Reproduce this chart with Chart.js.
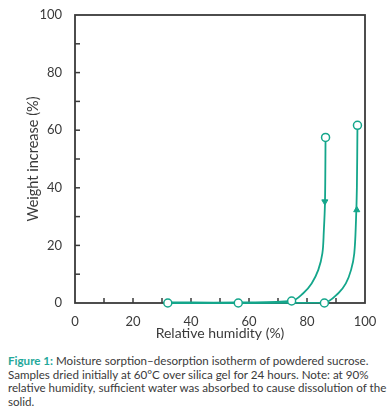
<!DOCTYPE html>
<html>
<head>
<meta charset="utf-8">
<script src="https://cdn.jsdelivr.net/npm/chart.js@4.4.1/dist/chart.umd.min.js"></script>
<style>
  body { margin: 0; background: #fff; width: 389px; height: 419px; overflow: hidden; }
  #wrap { position: relative; width: 389px; height: 345px; }
  #caption { font-family: Lato, sans-serif; font-size: 11.6px; line-height: 13.7px; color: #3a3a3a;
             margin: 9px 0 0 8px; white-space: nowrap; }
  #caption b { color: #24a89a; }
</style>
</head>
<body>
<div id="wrap"><canvas id="isoChart" width="389" height="345"></canvas></div>
<div id="caption"><b>Figure 1:</b> Moisture sorption–desorption isotherm of powdered sucrose.<br>Samples dried initially at 60°C over silica gel for 24 hours. Note: at 90%<br>relative humidity, sufficient water was absorbed to cause dissolution of the<br>solid.</div>
<script>
// Data (RH %, kenaikan berat %)
const sorptionX = [32, 56.3, 86, 90.8, 93.4, 95.2, 96.3, 96.9, 97.2, 97.4];
const sorptionY = [0, 0, 0.1, 3.4, 6.8, 11.5, 17.2, 28.8, 40, 61.7];
const desorptionX = [86.4, 86.2, 85.8, 85.3, 83.9, 81.6, 78.7, 74.7, 56.3, 32];
const desorptionY = [57.5, 35, 25, 17.2, 11.5, 6.8, 3.4, 0.7, 0.2, 0.2];

// titik yang diukur (lingkaran)
const markerX = [32, 56.3, 74.7, 86, 86.4, 97.4];
const markerY = [0, 0, 0.7, 0, 57.5, 61.7];

// panah arah
const arrowUp = { x: 97.15, y: 32.3 };
const arrowDown = { x: 86.15, y: 35.2 };

const xTicks = [0, 20, 40, 60, 80, 100];
const yTicks = [0, 20, 40, 60, 80, 100];
const minorTicks = [10, 20, 30, 40, 50, 60, 70, 80, 90];

const teal = "#14a68b";
const ink = "#3a3a3a";

const toPts = (xs, ys) => xs.map((x, i) => ({ x: x, y: ys[i] }));

// bingkai + tick ke dalam, digambar sebelum garis data
const framePlugin = {
    id: "frame",
    beforeDatasetsDraw(chart) {
        const { ctx, chartArea: a, scales } = chart;
        ctx.save();
        ctx.strokeStyle = ink;
        ctx.lineWidth = 1.5;
        minorTicks.forEach((v) => {
            const px = scales.x.getPixelForValue(v);
            ctx.beginPath();
            ctx.moveTo(px, a.bottom);
            ctx.lineTo(px, a.bottom - 5);
            ctx.stroke();
            const py = scales.y.getPixelForValue(v);
            ctx.beginPath();
            ctx.moveTo(a.left, py);
            ctx.lineTo(a.left + 5, py);
            ctx.stroke();
        });
        ctx.lineWidth = 1.8;
        ctx.strokeRect(a.left, a.top, a.right - a.left, a.bottom - a.top);
        ctx.restore();
    },
};

const config = {
    type: "scatter",
    data: {
        datasets: [
            {
                label: "Measured",
                data: toPts(markerX, markerY),
                pointRadius: 4,
                pointBackgroundColor: "#fff",
                pointBorderColor: teal,
                pointBorderWidth: 1.5,
                clip: false,
            },
            {
                label: "Arrows",
                data: [arrowUp, arrowDown],
                pointStyle: "triangle",
                rotation: [0, 180],
                pointRadius: 3.5,
                backgroundColor: teal,
                borderColor: teal,
                borderWidth: 1,
                clip: false,
            },
            {
                label: "Sorption",
                data: toPts(sorptionX, sorptionY),
                showLine: true,
                borderColor: teal,
                borderWidth: 1.8,
                pointRadius: 0,
                tension: 0.35,
                clip: false,
            },
            {
                label: "Desorption",
                data: toPts(desorptionX, desorptionY),
                showLine: true,
                borderColor: teal,
                borderWidth: 1.8,
                pointRadius: 0,
                tension: 0.35,
                clip: false,
            },
        ],
    },
    options: {
        responsive: false,
        animation: false,
        layout: { padding: { left: 0, right: 24, top: 15, bottom: 0 } },
        plugins: {
            legend: { display: false },
            tooltip: { enabled: false },
        },
        scales: {
            x: {
                min: 0,
                max: 100,
                afterFit: (s) => { s.height = 42; },
                afterBuildTicks: (s) => { s.ticks = xTicks.map((v) => ({ value: v })); },
                grid: { display: false },
                border: { display: false },
                ticks: { color: ink, padding: 3, font: { family: "Lato", size: 13 } },
                title: {
                    display: true,
                    text: "Relative humidity (%)",
                    color: ink,
                    font: { family: "Lato", size: 14 },
                    padding: { top: 0, bottom: 3 },
                },
            },
            y: {
                min: 0,
                max: 100,
                afterFit: (s) => { s.width = 75; },
                afterBuildTicks: (s) => { s.ticks = yTicks.map((v) => ({ value: v })); },
                grid: { display: false },
                border: { display: false },
                ticks: { color: ink, padding: 5, font: { family: "Lato", size: 13 } },
                title: {
                    display: true,
                    text: "Weight increase (%)",
                    color: ink,
                    font: { family: "Lato", size: 14.5 },
                    padding: { top: 25, bottom: 0 },
                },
            },
        },
    },
    plugins: [framePlugin],
};

const isoChart = new Chart(document.getElementById("isoChart").getContext("2d"), config);
</script>
</body>
</html>
